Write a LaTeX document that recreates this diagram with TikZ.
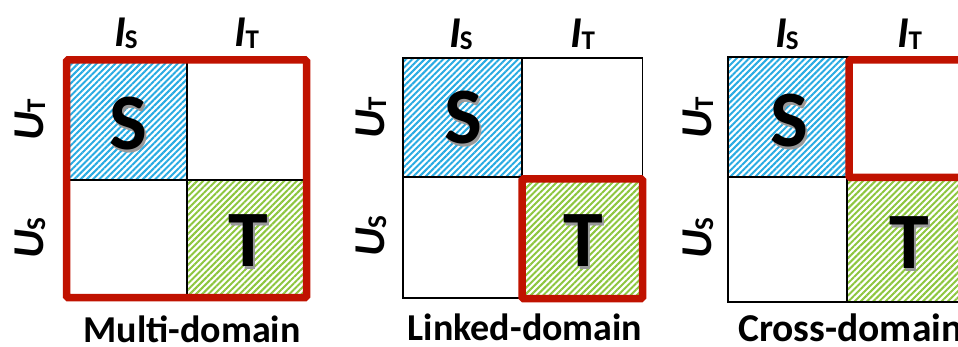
\documentclass[tikz,border=0pt]{standalone}
\usepackage{fontspec}
\setmainfont{Carlito}
\usetikzlibrary{patterns.meta}
\definecolor{redbox}{RGB}{192,18,0}
\definecolor{hblue}{RGB}{41,171,226}
\definecolor{hgreen}{RGB}{141,198,63}
\tikzset{
  gridline/.style={draw=black,line width=1.3pt},
  bluehatch/.style={pattern={Lines[angle=45,distance=4.4pt,line width=2pt]},pattern color=hblue},
  greenhatch/.style={pattern={Lines[angle=45,distance=4.4pt,line width=2pt]},pattern color=hgreen},
  redframe/.style={draw=redbox,line width=7.5pt,rounded corners=1.5pt},
  biglet/.style={font=\fontsize{80}{80}\selectfont\bfseries,inner sep=0pt},
  axlab/.style={font=\fontsize{44}{44}\selectfont\bfseries,inner sep=0pt,anchor=base},
  caplab/.style={font=\fontsize{38}{38}\selectfont\bfseries,inner sep=0pt,anchor=base},
}
\newcommand{\axl}[2]{\textit{#1}\kern-1pt\raisebox{-2pt}{\fontsize{27}{27}\selectfont #2}}
\newcommand{\shl}[1]{\rlap{\kern2.5pt\raisebox{-2.5pt}{\color{black!40}#1}}#1}
\begin{document}
\begin{tikzpicture}[x=1pt,y=-1pt]
\useasboundingbox (0,0) rectangle (958,347);
\clip (0,0) rectangle (958,347);
% ---------- panel 1: Multi-domain ----------
\path[bluehatch] (66.5,60) rectangle (187,180);
\path[greenhatch] (187,180) rectangle (306.5,297.5);
\draw[gridline] (66.5,60) rectangle (306.5,297.5);
\draw[gridline] (187,60) -- (187,297.5);
\draw[gridline] (66.5,180) -- (306.5,180);
\node[biglet] (p1S) at (128,125) {\shl{S}};
\node[biglet] (p1T) at (248,242) {\shl{T}};
\draw[redframe] (66.5,60) rectangle (306.5,297.5);
\node[axlab] (p1IS) at (126,47) {\axl{I}{S}};
\node[axlab] (p1IT) at (247,47) {\axl{I}{T}};
\node[axlab,rotate=90] (p1UT) at (43,120) {\axl{U}{T}};
\node[axlab,rotate=90] (p1US) at (43,238) {\axl{U}{S}};
\node[caplab] (p1cap) at (192,342) {Multi-domain};
% ---------- panel 2: Linked-domain ----------
\path[bluehatch] (403,58) rectangle (522,177);
\path[greenhatch] (522,177) rectangle (642.5,298);
\draw[gridline] (403,58) rectangle (642.5,298);
\draw[gridline] (522,58) -- (522,298);
\draw[gridline] (403,177) -- (642.5,177);
\node[biglet] (p2S) at (463,119) {\shl{S}};
\node[biglet] (p2T) at (583,242) {\shl{T}};
\draw[redframe] (522,179) rectangle (642.5,298.5);
\node[axlab] (p2IS) at (461,48) {\axl{I}{S}};
\node[axlab] (p2IT) at (583,48) {\axl{I}{T}};
\node[axlab,rotate=90] (p2UT) at (384,118) {\axl{U}{T}};
\node[axlab,rotate=90] (p2US) at (384,236) {\axl{U}{S}};
\node[caplab] (p2cap) at (525,340) {Linked-domain};
% ---------- panel 3: Cross-domain ----------
\path[bluehatch] (728,57) rectangle (847,177);
\path[greenhatch] (847,177) rectangle (968,302);
\draw[gridline] (728,57) rectangle (968,302);
\draw[gridline] (847,57) -- (847,302);
\draw[gridline] (728,177) -- (968,177);
\node[biglet] (p3S) at (789,122) {\shl{S}};
\node[biglet] (p3T) at (909,244) {\shl{T}};
\draw[redframe] (849,60) rectangle (972,177.5);
\node[axlab] (p3IS) at (787,48) {\axl{I}{S}};
\node[axlab] (p3IT) at (910,48) {\axl{I}{T}};
\node[axlab,rotate=90] (p3UT) at (711,118) {\axl{U}{T}};
\node[axlab,rotate=90] (p3US) at (711,238) {\axl{U}{S}};
\node[caplab,anchor=base west,font=\fontsize{39.5}{39.5}\selectfont\bfseries] (p3cap) at (738,341) {Cross-domain};
\end{tikzpicture}
\end{document}
